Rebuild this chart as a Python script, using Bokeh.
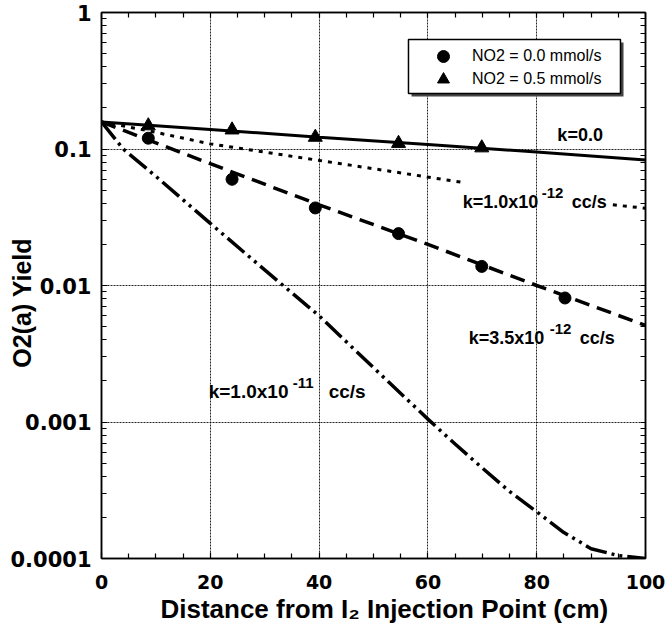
from bokeh.plotting import figure
from bokeh.models import (Range1d, FixedTicker, LinearAxis, LogAxis, Legend,
                          LegendItem, Label, BoxAnnotation)
from bokeh.embed import file_html
from bokeh.resources import INLINE

NAN = float("nan")
NBSP = "\u00a0"

# ---- measured O2(a) yields ----
dist_no2_0 = [8.6, 24.0, 39.3, 54.6, 69.9, 85.2]
yield_no2_0 = [0.12, 0.060, 0.037, 0.024, 0.0138, 0.0081]

dist_no2_05 = [8.6, 24.0, 39.3, 54.6, 69.9]
yield_no2_05 = [0.148, 0.138, 0.122, 0.110, 0.102]

# ---- model curves for several quenching rate constants ----
k0_x = [0, 20, 40, 60, 80, 100]
k0_y = [0.158, 0.139, 0.122, 0.108, 0.095, 0.083]

k1e12_x = [0, 8.6, 20, 44, 66.3, NAN, 94, 100]
k1e12_y = [0.158, 0.136, 0.109, 0.078, 0.057, NAN, 0.039, 0.0368]

k35e12_x = [0, 20, 40, 60, 80, 100]
k35e12_y = [0.158, 0.078, 0.039, 0.020, 0.010, 0.0051]

k1e11_x = [0, 4, 10, 20, 30, 40, 50, 60, 65, 70, 75, 80, 85, 90, 95, 100]
k1e11_y = [0.158, 0.10, 0.063, 0.0285, 0.013, 0.006, 0.0025, 0.00105,
           0.00069, 0.00046, 0.00031, 0.00022, 0.000155, 0.000118,
           0.000105, 0.0001]

# ---- axis ticks ----
x_ticks = [0, 20, 40, 60, 80, 100]
x_tick_labels = ["0", "20", "40", "60", "80", "100"]
x_minor = [5, 10, 15, 25, 30, 35, 45, 50, 55, 65, 70, 75, 85, 90, 95]
y_ticks = [1, 0.1, 0.01, 0.001, 0.0001]
y_tick_labels = ["1", "0.1", "0.01", "0.001", "0.0001"]
y_minor = [m * d for d in (0.0001, 0.001, 0.01, 0.1) for m in range(2, 10)]

FONT = "Liberation Sans"
TICK_FONT = "DejaVu Sans"

p = figure(width=668, height=641, y_axis_type="log",
           x_range=Range1d(0, 100), y_range=Range1d(0.0001, 1),
           output_backend="svg", toolbar_location=None,
           min_border_left=101, min_border_right=23,
           min_border_top=12, min_border_bottom=83)
p.outline_line_color = "black"
p.outline_line_width = 1.5
p.background_fill_color = "white"
p.border_fill_color = "white"

xticker = FixedTicker(ticks=x_ticks, minor_ticks=x_minor)
yticker = FixedTicker(ticks=y_ticks, minor_ticks=y_minor)
# mirror axes: tick marks only, no labels
xticker_top = FixedTicker(ticks=[], minor_ticks=x_minor + x_ticks)
yticker_right = FixedTicker(ticks=[], minor_ticks=y_minor + y_ticks)


def style_axis(ax):
    ax.axis_line_color = "black"
    ax.axis_line_width = 1.5
    ax.major_tick_in = 6
    ax.major_tick_out = 0
    ax.minor_tick_in = 5
    ax.minor_tick_out = 0
    ax.major_tick_line_color = "black"
    ax.minor_tick_line_color = "black"
    ax.major_tick_line_width = 1.2
    ax.minor_tick_line_width = 1.2


xa = p.xaxis[0]
xa.ticker = xticker
xa.major_label_overrides = dict(zip(x_ticks, x_tick_labels))
style_axis(xa)
xa.major_label_text_font = TICK_FONT
xa.major_label_text_font_style = "bold"
xa.major_label_text_font_size = "19px"
xa.major_label_text_color = "black"
xa.major_label_standoff = 16
# leading no-break spaces nudge the centred title slightly to the right
xa.axis_label = NBSP * 3 + "Distance from I\u2082 Injection Point (cm)"
xa.axis_label_text_font = FONT
xa.axis_label_text_font_style = "bold"
xa.axis_label_text_font_size = "26px"
xa.axis_label_text_color = "black"
xa.axis_label_standoff = 2

ya = p.yaxis[0]
ya.ticker = yticker
ya.major_label_overrides = dict(zip(y_ticks, y_tick_labels))
style_axis(ya)
ya.major_label_text_font = TICK_FONT
ya.major_label_text_font_style = "bold"
ya.major_label_text_font_size = "21px"
ya.major_label_text_color = "black"
ya.major_label_standoff = 10
# trailing no-break spaces push the rotated title a little lower
ya.axis_label = "O2(a) Yield" + NBSP * 5
ya.axis_label_text_font = FONT
ya.axis_label_text_font_style = "bold"
ya.axis_label_text_font_size = "25px"
ya.axis_label_text_color = "black"
ya.axis_label_standoff = -29

top_ax = LinearAxis(ticker=xticker_top)
style_axis(top_ax)
p.add_layout(top_ax, "above")
right_ax = LogAxis(ticker=yticker_right)
style_axis(right_ax)
p.add_layout(right_ax, "right")

for g in (p.xgrid[0], p.ygrid[0]):
    g.grid_line_color = "black"
    g.grid_line_width = 1
    g.grid_line_dash = "2 1"
    g.grid_line_alpha = 0.85
p.xgrid[0].ticker = xticker
p.ygrid[0].ticker = yticker

# ---- model curves ----
p.line(k0_x, k0_y, line_color="black", line_width=3)
p.line(k1e12_x, k1e12_y, line_color="black", line_width=3, line_dash="4 6")
p.line(k35e12_x, k35e12_y, line_color="black", line_width=3.5, line_dash="15 8")
p.line(k1e11_x, k1e11_y, line_color="black", line_width=3.5,
       line_dash="22 5 3 5 3 5")

# ---- measurements ----
r_circ = p.scatter(dist_no2_0, yield_no2_0, marker="circle", size=12,
                   fill_color="black", line_color="black")
r_tri = p.scatter(dist_no2_05, yield_no2_05, marker="triangle", size=14,
                  fill_color="black", line_color="black")


# ---- curve labels ----
def k_label(x, y, main, sup=None, unit=None, sup_dx=79, unit_dx=109,
            size=18):
    p.add_layout(Label(x=x, y=y, text=main, text_font=FONT,
                       text_font_style="bold", text_font_size=f"{size}px",
                       text_baseline="middle", text_color="black"))
    if sup:
        p.add_layout(Label(x=x, y=y, text=sup, x_offset=sup_dx, y_offset=9,
                           text_font=FONT, text_font_style="bold",
                           text_font_size="15px", text_baseline="middle",
                           text_color="black"))
    if unit:
        p.add_layout(Label(x=x, y=y, text=unit, x_offset=unit_dx,
                           text_font=FONT, text_font_style="bold",
                           text_font_size=f"{size}px", text_baseline="middle",
                           text_color="black"))


k_label(83.8, 0.1256, "k=0.0")
k_label(66.4, 0.0409, "k=1.0x10", "-12", "cc/s")
k_label(67.5, 0.00409, "k=3.5x10", "-12", "cc/s", 81, 111)
k_label(19.7, 0.00167, "k=1.0x10", "-11", "cc/s", 84, 120, size=19)

# ---- legend: drop shadow, framed box, then one entry per series ----
p.add_layout(BoxAnnotation(left=56.99, right=95.96, top=0.603, bottom=0.2424,
                           fill_color="#444444", fill_alpha=1.0,
                           line_color=None))
p.add_layout(BoxAnnotation(left=56.43, right=95.40, top=0.634, bottom=0.255,
                           fill_color="white", fill_alpha=1.0,
                           line_color="black", line_width=1.5, line_alpha=1.0))


def legend_entry(label, renderer, loc):
    return Legend(items=[LegendItem(label=label, renderers=[renderer])],
                  location=loc, margin=0, padding=0, spacing=0,
                  glyph_width=30, glyph_height=30, label_height=16,
                  label_standoff=14, label_text_font=FONT,
                  label_text_font_size="16px", label_text_color="black",
                  border_line_color=None, background_fill_alpha=0.0)


p.add_layout(legend_entry("NO2 = 0.0 mmol/s", r_circ, (327, 487)), "center")
p.add_layout(legend_entry("NO2 = 0.5 mmol/s", r_tri, (327, 464)), "center")

open("out.html", "w").write(file_html(p, INLINE))
